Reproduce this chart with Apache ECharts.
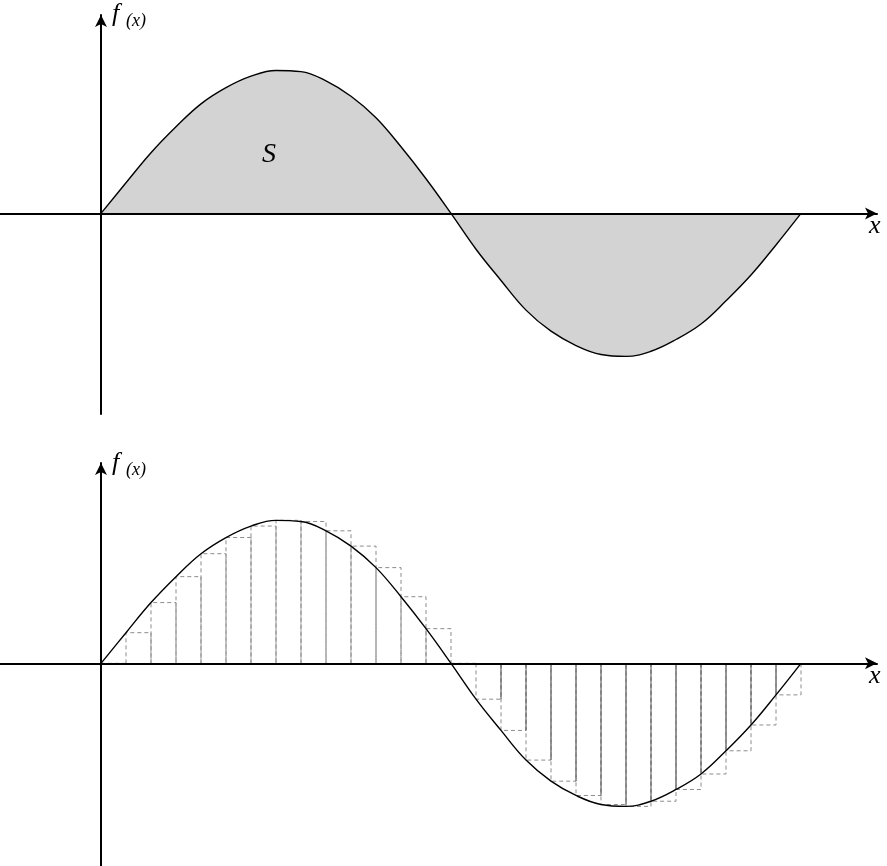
<!DOCTYPE html>
<html><head><meta charset="utf-8">
<script src="https://cdn.jsdelivr.net/npm/echarts@6/dist/echarts.min.js"></script>
<style>html,body{margin:0;padding:0;background:#fff}#c{width:887px;height:866px}</style>
</head><body><div id="c"></div>
<script>
// sample positions along x (one step = one strip of the Riemann sum)
const xSteps = [0,1,2,3,4,5,6,7,8,9,10,11,12,13,14,15,16,17,18,19,20,21,22,23,24,25,26,27,28];
// curve values (amplitude ~1)
const fValues = [0,0.214,0.424,0.605,0.765,0.878,0.958,0.998,0.990,0.925,0.818,0.668,0.465,0.242,0,
  -0.250,-0.468,-0.675,-0.822,-0.922,-0.985,-0.998,-0.962,-0.880,-0.772,-0.610,-0.430,-0.220,0];
// strip heights (value at the left end of each strip)
const stripHeights = [0,0.214,0.424,0.605,0.765,0.878,0.958,0.998,0.990,0.925,0.818,0.668,0.465,0.242,0,
  -0.250,-0.468,-0.675,-0.822,-0.922,-0.985,-0.998,-0.962,-0.880,-0.772,-0.610,-0.430,-0.220];
const axisLabels = {y: 'f', ySub: '(x)', x: 'x', area: 'S'};

const curveData = xSteps.map((x, i) => [x, fValues[i]]);
const stripData = stripHeights.map((h, i) => [xSteps[i], xSteps[i + 1], h]);
const sharedEdges = [];
for (let i = 1; i < stripHeights.length; i++) {
  const a = stripHeights[i - 1], b = stripHeights[i];
  if (a * b > 0) {
    const h = Math.abs(a) < Math.abs(b) ? a : b;
    sharedEdges.push([xSteps[i], h]);
  }
}

const chart = echarts.init(document.getElementById('c'), null, {renderer: 'canvas'});
const axisLineBase = {onZero: true, symbol: ['none', 'arrow'], symbolSize: [9, 12],
  lineStyle: {color: '#000', width: 2}};
function xAx(gi) {
  return {type: 'value', gridIndex: gi, min: -4.04, max: 31.04, z: 10,
    axisLine: axisLineBase, axisTick: {show: false}, axisLabel: {show: false}, splitLine: {show: false}};
}
function yAx(gi, min, max) {
  return {type: 'value', gridIndex: gi, min: min, max: max, z: 10,
    axisLine: axisLineBase, axisTick: {show: false}, axisLabel: {show: false}, splitLine: {show: false}};
}
function label(text, x, y, size) {
  return {type: 'text', x: x, y: y, z: 20, silent: true,
    style: {text: text, font: 'italic ' + size + 'px "Liberation Serif", serif',
      fill: '#000', align: 'left', verticalAlign: 'middle'}};
}

chart.setOption({
  animation: false,
  backgroundColor: '#fff',
  grid: [
    {left: 0, right: 10, top: 15, height: 399},
    {left: 0, right: 10, top: 463, height: 403}
  ],
  xAxis: [xAx(0), xAx(1)],
  yAxis: [yAx(0, -1.4, 1.385), yAx(1, -1.414, 1.398)],
  series: [
    {type: 'line', xAxisIndex: 0, yAxisIndex: 0, data: curveData, smooth: 0.4, showSymbol: false,
      lineStyle: {color: '#000', width: 1.4}, areaStyle: {color: '#d3d3d3', opacity: 1}, z: 3},
    {type: 'custom', xAxisIndex: 1, yAxisIndex: 1, data: stripData, z: 2, silent: true,
      renderItem: function (params, api) {
        const x0 = api.value(0), x1 = api.value(1), h = api.value(2);
        const pts = [api.coord([x0, 0]), api.coord([x0, h]), api.coord([x1, h]), api.coord([x1, 0])];
        return {type: 'polyline', shape: {points: pts},
          style: {stroke: '#8c8c8c', fill: null, lineWidth: 1, lineDash: [4, 3]}};
      }},
    {type: 'custom', xAxisIndex: 1, yAxisIndex: 1, data: sharedEdges, z: 3, silent: true,
      renderItem: function (params, api) {
        const x = api.value(0), h = api.value(1);
        const p0 = api.coord([x, 0]), p1 = api.coord([x, h]);
        return {type: 'line', shape: {x1: p0[0], y1: p0[1], x2: p1[0], y2: p1[1]},
          style: {stroke: h > 0 ? '#ababab' : '#5a5a5a', lineWidth: 1}};
      }},
    {type: 'line', xAxisIndex: 1, yAxisIndex: 1, data: curveData, smooth: 0.4, showSymbol: false,
      lineStyle: {color: '#000', width: 1.4}, z: 5}
  ],
  graphic: [
    label(axisLabels.y, 112, 14, 26), label(axisLabels.ySub, 126, 21, 18),
    label(axisLabels.x, 869, 226, 26),
    label(axisLabels.area, 262, 155, 28),
    label(axisLabels.y, 112, 463, 26), label(axisLabels.ySub, 126, 470, 18),
    label(axisLabels.x, 869, 676, 26)
  ]
});
</script></body></html>
